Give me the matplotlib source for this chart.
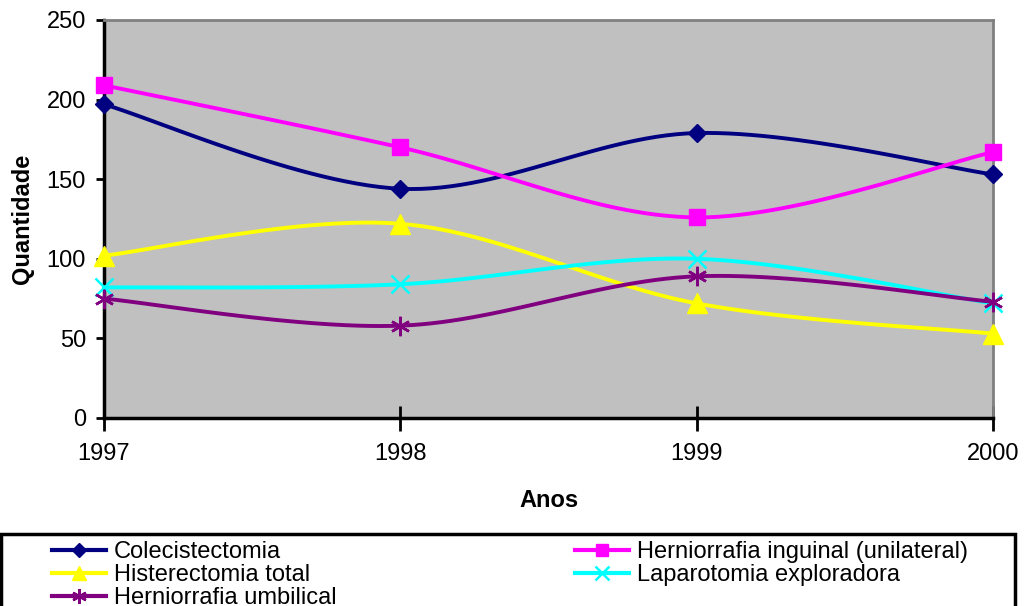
import numpy as np
import matplotlib.pyplot as plt
from matplotlib.lines import Line2D
from matplotlib.patches import Rectangle

anos = [1997, 1998, 1999, 2000]
colecistectomia = [197, 144, 179, 153]
herniorrafia_inguinal = [209, 170, 126, 167]
histerectomia = [102, 122, 72, 53]
laparotomia = [82, 84, 100, 72]
herniorrafia_umbilical = [75, 58, 89, 73]

nomes = ['Colecistectomia', 'Herniorrafia inguinal (unilateral)', 'Histerectomia total',
         'Laparotomia exploradora', 'Herniorrafia umbilical']
cores = ['#000080', '#FF00FF', '#FFFF00', '#00FFFF', '#800080']
marcadores = ['D', 's', '^', 'x', (6, 2, 0)]

plt.rcParams['font.family'] = ['Liberation Sans', 'DejaVu Sans']


def suavizar(x, y, n=30):
    # bezier estilo excel (catmull-rom)
    x = np.asarray(x, float); y = np.asarray(y, float)
    px = np.concatenate([[x[0]], x, [x[-1]]])
    py = np.concatenate([[y[0]], y, [y[-1]]])
    xs = []; ys = []
    t = np.linspace(0, 1, n)
    for i in range(len(x) - 1):
        p0 = np.array([px[i + 1], py[i + 1]])
        p3 = np.array([px[i + 2], py[i + 2]])
        p1 = p0 + (np.array([px[i + 2], py[i + 2]]) - np.array([px[i], py[i]])) / 6.0
        p2 = p3 - (np.array([px[i + 3], py[i + 3]]) - np.array([px[i + 1], py[i + 1]])) / 6.0
        for tt in t:
            b = (1 - tt) ** 3 * p0 + 3 * (1 - tt) ** 2 * tt * p1 + 3 * (1 - tt) * tt ** 2 * p2 + tt ** 3 * p3
            xs.append(b[0]); ys.append(b[1])
    return xs, ys


fig = plt.figure(figsize=(10.24, 6.06), dpi=100)
ax = fig.add_axes([104 / 1024, 188 / 606, 889 / 1024, 398 / 606])
ax.set_facecolor('#C0C0C0')

series = [colecistectomia, herniorrafia_inguinal, histerectomia, laparotomia, herniorrafia_umbilical]
tamanhos = [9, 12, 14, 13, 14]
handles = []
for valores, nome, cor, mk, ms in zip(series, nomes, cores, marcadores, tamanhos):
    sx, sy = suavizar(anos, valores)
    ax.plot(sx, sy, color=cor, lw=2.8, clip_on=False, zorder=3)
    ew = 1.8 if mk in ('x', (6, 2, 0)) else 1
    ax.plot(anos, valores, ls='none', marker=mk, ms=ms, color=cor, mec=cor, mew=ew,
            clip_on=False, zorder=4)
    handles.append(Line2D([], [], color=cor, lw=3, marker=mk, ms=ms * 0.75, mec=cor, mew=ew, label=nome))

ax.set_xlim(1997, 2000)
ax.set_ylim(0, 250)
ax.set_xticks(anos)
ax.set_yticks(np.arange(0, 251, 50))
ax.tick_params(axis='y', direction='out', length=6, width=2, labelsize=17, pad=7)
ax.tick_params(axis='x', direction='inout', length=18, width=2, labelsize=17, pad=9)
for s in ['left', 'bottom']:
    ax.spines[s].set_color('black')
    ax.spines[s].set_linewidth(2.5)
for s in ['top', 'right']:
    ax.spines[s].set_color('#808080')
    ax.spines[s].set_linewidth(2)

ax.set_xlabel('Anos', fontsize=17, fontweight='bold', labelpad=17)
ax.set_ylabel('Quantidade', fontsize=17, fontweight='bold', labelpad=9)

# caixa da legenda
fig.patches.append(Rectangle((1 / 1024, -0.02), 1014 / 1024, 0.02 + 72 / 606,
                             transform=fig.transFigure, fill=False, ec='black', lw=2.5))

# ordem de preenchimento por coluna
ordem = [0, 2, 4, 1, 3]
leg = fig.legend([handles[i] for i in ordem], [nomes[i] for i in ordem], ncol=2,
                 loc='upper left', bbox_to_anchor=(52 / 1024, 1 - 541 / 606),
                 fontsize=17, frameon=False, handlelength=2.27,
                 handletextpad=0.35, labelspacing=0.05, columnspacing=10.1,
                 borderaxespad=0, borderpad=0)

fig.savefig('out.png', dpi=100)
